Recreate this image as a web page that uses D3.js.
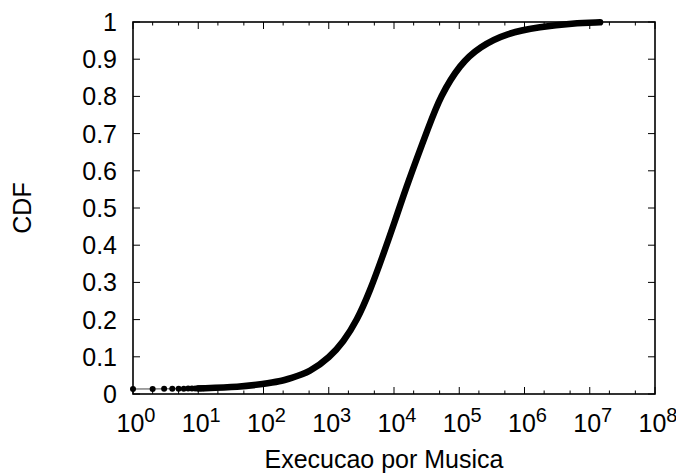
<!DOCTYPE html>
<html>
<head>
<meta charset="utf-8">
<script src="https://cdn.jsdelivr.net/npm/d3@7"></script>
<style>
  body { margin: 0; background: #fff; }
  text { font-family: "Liberation Sans", Arial, sans-serif; fill: #000; }
</style>
</head>
<body>
<svg id="chart" width="676" height="476"></svg>
<script>
// discrete low play counts (each one is a visible dot)
const lowCounts = [1, 2, 3, 4, 5, 6, 7, 8, 9, 10, 11, 12, 13, 14, 15];
const lowCdf = [0.0134, 0.0136, 0.0138, 0.0140, 0.0142, 0.0144, 0.0146, 0.0148, 0.0150, 0.0152, 0.0154, 0.0156, 0.0158, 0.0160, 0.0162];

// dense part of the cdf
const curveCounts = [10, 44, 100, 180, 255, 516, 1045, 1670, 2680, 4290, 6780, 10350, 15800, 35600, 50700, 102600, 208000, 533000, 1730000, 5500000, 14400000];
const curveCdf = [0.015, 0.019, 0.027, 0.034, 0.042, 0.059, 0.0995, 0.140, 0.196, 0.277, 0.373, 0.465, 0.562, 0.728, 0.798, 0.887, 0.934, 0.970, 0.987, 0.9965, 0.999];

const xMajor = [1, 10, 100, 1e3, 1e4, 1e5, 1e6, 1e7, 1e8];
const xMinor = [2, 5, 20, 50, 200, 500, 2e3, 5e3, 2e4, 5e4, 2e5, 5e5, 2e6, 5e6, 2e7, 5e7];
const yTicks = [0, 0.1, 0.2, 0.3, 0.4, 0.5, 0.6, 0.7, 0.8, 0.9, 1];

let svg = d3.select('#chart');
let margin = { left: 133, right: 21, top: 22, bottom: 82 };
let width = 676 - margin.left - margin.right;
let height = 476 - margin.top - margin.bottom;

let x = d3.scaleLog().domain([1, 1e8]).range([0, width]);
let y = d3.scaleLinear().domain([0, 1]).range([height, 0]);

let g = svg.append('g').attr('transform', `translate(${margin.left},${margin.top})`);

// ticks, inward on all four sides
let ticks = g.append('g').attr('stroke', '#000').attr('stroke-width', 1);
xMajor.forEach(v => {
  ticks.append('line').attr('x1', x(v)).attr('x2', x(v)).attr('y1', height).attr('y2', height - 7);
  ticks.append('line').attr('x1', x(v)).attr('x2', x(v)).attr('y1', 0).attr('y2', 7);
});
xMinor.forEach(v => {
  ticks.append('line').attr('x1', x(v)).attr('x2', x(v)).attr('y1', height).attr('y2', height - 3.5);
  ticks.append('line').attr('x1', x(v)).attr('x2', x(v)).attr('y1', 0).attr('y2', 3.5);
});
yTicks.forEach(v => {
  ticks.append('line').attr('x1', 0).attr('x2', 7).attr('y1', y(v)).attr('y2', y(v));
  ticks.append('line').attr('x1', width).attr('x2', width - 7).attr('y1', y(v)).attr('y2', y(v));
});

// y tick labels
g.selectAll('.ylab').data(yTicks).enter().append('text')
  .attr('class', 'ylab')
  .attr('x', -16)
  .attr('y', d => y(d) + 9)
  .attr('text-anchor', 'end')
  .style('font-size', '25px')
  .text(d => d3.format('')(d));

// x tick labels 10^n
let xl = g.selectAll('.xlab').data(xMajor).enter().append('text')
  .attr('class', 'xlab')
  .attr('x', d => x(d) + 3)
  .attr('y', height + 38)
  .attr('text-anchor', 'middle')
  .style('font-size', '25px');
xl.append('tspan').text('10');
xl.append('tspan').attr('dy', -10).style('font-size', '20px').text(d => Math.round(Math.log10(d)));

// axis titles
svg.append('text')
  .attr('x', margin.left + width / 2 - 10)
  .attr('y', 468)
  .attr('text-anchor', 'middle')
  .style('font-size', '25px')
  .text('Execucao por Musica');

svg.append('text')
  .attr('transform', `translate(31,${margin.top + height / 2})rotate(-90)`)
  .attr('text-anchor', 'middle')
  .style('font-size', '25px')
  .text('CDF');

// thin connecting line through the discrete points
let line = d3.line().x(d => x(d[0])).y(d => y(d[1]));
g.append('path')
  .datum(d3.zip(lowCounts, lowCdf))
  .attr('fill', 'none')
  .attr('stroke', '#444')
  .attr('stroke-width', 1)
  .attr('d', line);

// dense part: overlapping markers look like a thick line
g.append('path')
  .datum(d3.zip(curveCounts, curveCdf))
  .attr('fill', 'none')
  .attr('stroke', '#000')
  .attr('stroke-width', 6.5)
  .attr('stroke-linecap', 'round')
  .attr('stroke-linejoin', 'round')
  .attr('d', line.curve(d3.curveBasis));

g.selectAll('.pt').data(d3.zip(lowCounts, lowCdf)).enter().append('circle')
  .attr('class', 'pt')
  .attr('cx', d => x(d[0]))
  .attr('cy', d => y(d[1]))
  .attr('r', 3)
  .attr('fill', '#000');

// frame
g.append('rect')
  .attr('width', width)
  .attr('height', height)
  .attr('fill', 'none')
  .attr('stroke', '#000')
  .attr('stroke-width', 1.6);
</script>
</body>
</html>
